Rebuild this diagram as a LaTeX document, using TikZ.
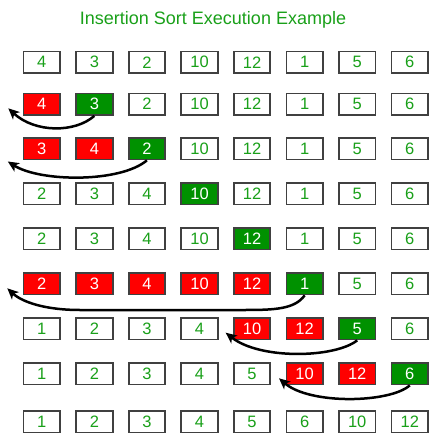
\documentclass[tikz,border=0pt]{standalone}
\usepackage{fontspec}
\setmainfont{Liberation Sans}
\usetikzlibrary{arrows.meta}
\definecolor{txtgreen}{RGB}{25,160,25}
\definecolor{boxgreen}{RGB}{0,145,0}
\definecolor{boxred}{RGB}{255,0,0}
\definecolor{boxborder}{RGB}{64,64,64}
\tikzset{
  cellbase/.style={draw=boxborder, line width=1.8pt, minimum width=36.5pt, minimum height=21.5pt,
    inner sep=0pt, font=\fontsize{16.5}{16.5}\selectfont},
  cellp/.style={cellbase, fill=white, text=txtgreen},
  cellr/.style={cellbase, fill=boxred, text=white},
  cellg/.style={cellbase, fill=boxgreen, text=white},
  movearrow/.style={line width=2.5pt, -{Stealth[length=11pt,width=10pt,inset=3pt]}, black}
}
\begin{document}
\begin{tikzpicture}[x=1pt,y=-1pt]
\useasboundingbox (0,0) rectangle (428,435);
\node[anchor=base, text=txtgreen, font=\fontsize{18}{18}\selectfont] (title) at (213,25) {Insertion Sort Execution Example};
\foreach \r/\y/\lst in {
  1/62.3/{p/4,p/3,p/2,p/10,p/12,p/1,p/5,p/6},
  2/104.2/{r/4,g/3,p/2,p/10,p/12,p/1,p/5,p/6},
  3/148.7/{r/3,r/4,g/2,p/10,p/12,p/1,p/5,p/6},
  4/193.7/{p/2,p/3,p/4,g/10,p/12,p/1,p/5,p/6},
  5/238.7/{p/2,p/3,p/4,p/10,g/12,p/1,p/5,p/6},
  6/283.7/{r/2,r/3,r/4,r/10,r/12,g/1,p/5,p/6},
  7/328.7/{p/1,p/2,p/3,p/4,r/10,r/12,g/5,p/6},
  8/373.7/{p/1,p/2,p/3,p/4,p/5,r/10,r/12,g/6},
  9/421.7/{p/1,p/2,p/3,p/4,p/5,p/6,p/10,p/12}}
{
  \foreach \st/\v [count=\c] in \lst {
    \node[cell\st] (n-\r-\c) at ({41.8+(\c-1)*52.57},\y) {\v};
  }
}
% arrow tips
\coordinate (t1) at (8.3,108.3);
\coordinate (t2) at (7.8,161.5);
\coordinate (t3) at (7.3,288.3);
\coordinate (t4) at (225.7,332.7);
\coordinate (t5) at (279,378.3);
\draw[movearrow] (n-2-2.south) .. controls (75,133) and (35,133) .. (t1);
\draw[movearrow] (n-3-3.south) .. controls (120,183) and (40,182) .. (t2);
\draw[movearrow] (n-6-6.south) .. controls (295,309) and (275,310) .. (245,310) -- (80,310) .. controls (45,310) and (22,302) .. (t3);
\draw[movearrow] (n-7-7.south) .. controls (335,358) and (260,360) .. (t4);
\draw[movearrow] (n-8-8.south) .. controls (390,403) and (310,405) .. (t5);
\end{tikzpicture}
\end{document}
